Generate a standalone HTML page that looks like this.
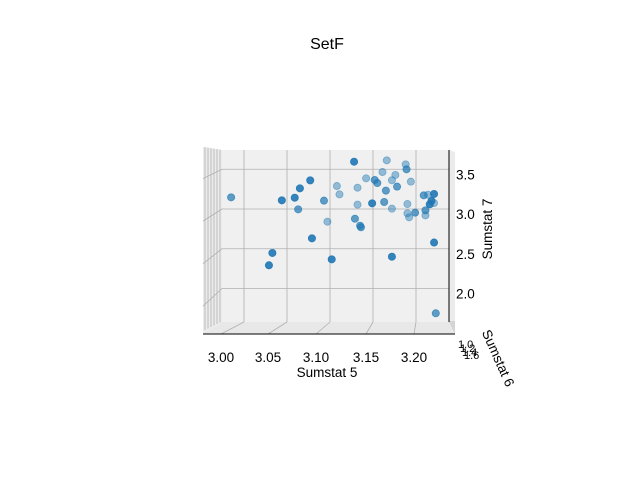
<!DOCTYPE html>
<html><head><meta charset="utf-8"><style>
html,body{margin:0;padding:0;background:#fff;}
svg{display:block;font-family:"Liberation Sans","DejaVu Sans",sans-serif;}
</style></head><body>
<svg id="chart" width="640" height="480" viewBox="0 0 640 480">
<rect width="640" height="480" fill="#fff"/>
<text x="327" y="49" font-size="16" text-anchor="middle">SetF</text>
<polygon points="203,147 222,150 222,322 203,334" fill="#ececec"/>
<polygon points="222,150 449,150 449,322 222,322" fill="#f0f0f0"/>
<polygon points="222,322 449,322 455,334 203,334" fill="#e8e8e8"/>
<polygon points="449,150 455,152 455,334 449,322" fill="#ebebeb"/>
<g id="grid"></g>
<g id="pts"></g>
<line x1="203" y1="334" x2="455" y2="334" stroke="#000" stroke-width="1"/>
<line x1="449" y1="150" x2="449" y2="322" stroke="#000" stroke-width="1"/>
<g id="ticks" font-size="13.5"></g>
<text x="327" y="377" font-size="13.5" text-anchor="middle">Sumstat 5</text>
<text x="492" y="229" font-size="13.5" text-anchor="middle" transform="rotate(-90 492 229)">Sumstat 7</text>
<text x="494" y="360" font-size="13.5" text-anchor="middle" transform="rotate(66 494 360)">Sumstat 6</text>
<g font-size="11">
<text x="458" y="348">1.0</text><text x="460" y="352">1.2</text><text x="462" y="356">1.4</text><text x="464" y="359">1.6</text>
</g>
</svg>
<script>
const xVals=[2.985,3.044,3.059,3.065,3.077,3.063,3.033,3.029,3.079,3.102,3.128,3.166,3.188,3.189,3.161,3.176,3.142,3.152,3.155,3.172,3.194,3.108,3.132,3.111,3.178,3.165,3.093,3.132,3.149,3.163,3.19,3.172,3.097,3.129,3.135,3.136,3.19,3.192,3.199,3.211,3.211,3.209,3.214,3.221,3.218,3.216,3.221,3.221,3.172,3.223];
const zVals=[3.147,3.109,3.142,3.26,3.36,2.996,2.447,2.292,2.631,2.367,3.595,3.612,3.562,3.499,3.465,3.428,3.386,3.365,3.327,3.361,3.344,3.289,3.268,3.184,3.281,3.231,3.105,3.055,3.071,3.088,3.063,3.004,2.84,2.878,2.79,2.77,2.946,2.895,2.954,2.983,2.92,3.172,3.18,3.189,3.101,3.059,3.075,2.578,2.4,1.688];
const depth=[0.7,0.9,0.9,0.9,0.9,0.7,0.9,0.9,0.9,0.9,0.9,0.45,0.45,0.7,0.45,0.45,0.45,0.7,0.7,0.45,0.45,0.45,0.45,0.45,0.7,0.7,0.7,0.45,0.9,0.7,0.45,0.45,0.45,0.7,0.7,0.7,0.45,0.45,0.7,0.7,0.45,0.7,0.45,0.9,0.9,0.9,0.45,0.9,0.9,0.7];
const xTicks=["3.00","3.05","3.10","3.15","3.20"];
const zTicks=["2.0","2.5","3.0","3.5"];
const NS="http://www.w3.org/2000/svg";
function sx(v){return 244+(v-3.0)/0.05*43;}
function sz(v){return 209-(v-3.0)*79.5;}
const grid=document.getElementById('grid'),pts=document.getElementById('pts'),ticks=document.getElementById('ticks');
function ln(g,x1,y1,x2,y2,name){const l=document.createElementNS(NS,'line');
l.setAttribute('x1',x1);l.setAttribute('y1',y1);l.setAttribute('x2',x2);l.setAttribute('y2',y2);
l.setAttribute('stroke','#b0b0b0');l.setAttribute('stroke-width','0.8');


g.appendChild(l);}
const frontX=[221,268,316,366,414];
xTicks.forEach((t,i)=>{const v=parseFloat(t);const x=sx(v);
ln(grid,x,150,x,322,'x-grid-line');ln(grid,x,322,frontX[i],334,'x-floor-grid-line');
const tx=document.createElementNS(NS,'text');tx.setAttribute('x',frontX[i]);tx.setAttribute('y',362);tx.setAttribute('text-anchor','middle');tx.textContent=t;


ticks.appendChild(tx);});
zTicks.forEach(t=>{const v=parseFloat(t);const y=sz(v);
ln(grid,222,y,449,y,'z-grid-line');ln(grid,203,y+(y-150)*0.07+8,222,y,'z-side-grid-line');
const tx=document.createElementNS(NS,'text');tx.setAttribute('x',456);tx.setAttribute('y',y+10);tx.textContent=t;


ticks.appendChild(tx);});
for(let i=0;i<6;i++){ln(grid,205+i*3,147+i*0.5,205+i*3,330-i*1.5,'side-depth-line');ln(grid,449+i,322+i*2,455,322+i*2,'right-depth-line');}
xVals.forEach((v,i)=>{const c=document.createElementNS(NS,'circle');
c.setAttribute('cx',sx(v));c.setAttribute('cy',sz(zVals[i]));c.setAttribute('r',3.6);
c.setAttribute('fill','#1f77b4');c.setAttribute('fill-opacity',depth[i]);
c.setAttribute('stroke','#1f77b4');c.setAttribute('stroke-opacity',depth[i]);c.setAttribute('stroke-width','0.8');


pts.appendChild(c);});
</script>
</body></html>
